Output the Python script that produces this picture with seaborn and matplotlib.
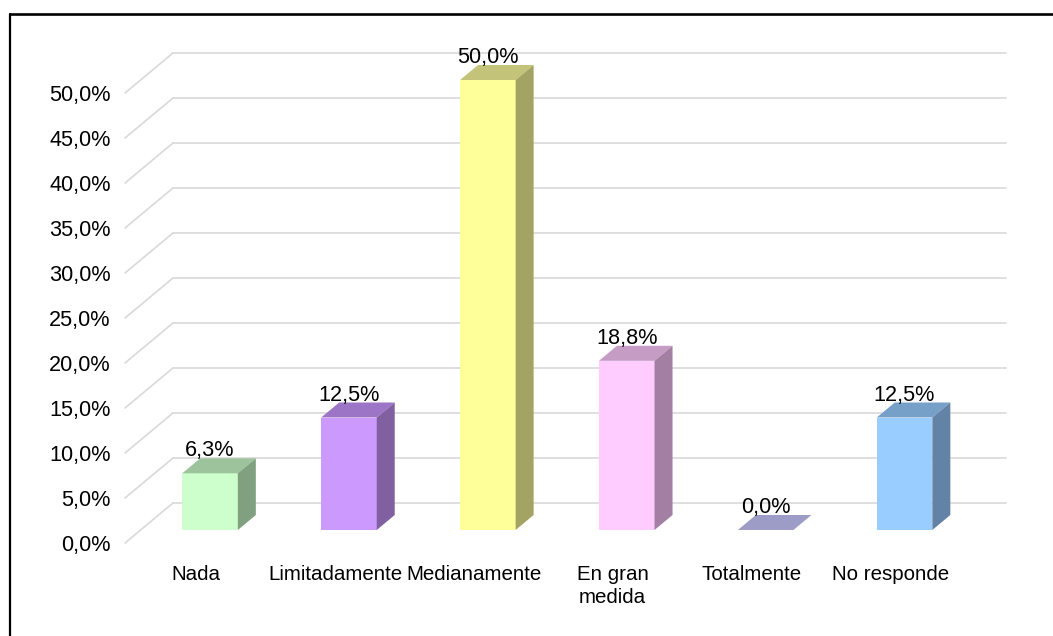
import matplotlib
matplotlib.use("Agg")
import matplotlib.pyplot as plt
import matplotlib.transforms as mtransforms
from matplotlib.patches import Polygon
from matplotlib.lines import Line2D
import seaborn as sns

# data
categorias = ["Nada", "Limitadamente", "Medianamente", "En gran\nmedida", "Totalmente", "No responde"]
porcentajes = [6.3, 12.5, 50.0, 18.8, 0.0, 12.5]
ticks_y = [0, 5, 10, 15, 20, 25, 30, 35, 40, 45, 50]

col_frente = ["#CCFFCC", "#CC99FF", "#FFFF99", "#FFCCFF", "#CCCCFF", "#99CCFF"]
col_arriba = ["#9DC39D", "#9D75C6", "#C3C37A", "#C49CC4", "#9C9CC6", "#76A0C8"]
col_lado = ["#80A080", "#8060A0", "#A3A363", "#A37FA3", "#7F7FA3", "#6282A6"]

sns.set_style("white")
plt.rcParams["font.family"] = ["Liberation Sans", "DejaVu Sans"]
fs_num = 15.6
fs_cat = 14.8

W, H = 1053, 636
fig = plt.figure(figsize=(W / 100, H / 100), dpi=100)
ax = fig.add_axes([140.6 / W, 106 / H, 833.4 / W, 450 / H])

sns.barplot(x=categorias, y=porcentajes, hue=categorias, palette=col_frente,
            width=0.4, saturation=1, legend=False, linewidth=0, ax=ax, zorder=3)
ax.set_xlim(-0.5, 5.5)
ax.set_ylim(0, 50)
for s in ax.spines.values():
    s.set_visible(False)
ax.tick_params(length=0, colors="black")
ax.set_facecolor("none")

def desplaza(dx, dy):
    # offset in pixels (dpi 100)
    return ax.transData + mtransforms.ScaledTranslation(dx / 100, dy / 100, fig.dpi_scale_trans)

# back wall grid + side wall diagonals
for v in ticks_y:
    ax.plot([-0.5, 5.5], [v, v], color="#D9D9D9", lw=1.2, transform=desplaza(32.4, 27),
            clip_on=False, zorder=1)
    p0 = desplaza(-15.6, -13).transform((-0.5, v))
    p1 = desplaza(32.4, 27).transform((-0.5, v))
    fig.add_artist(Line2D([p0[0] / W, p1[0] / W], [p0[1] / H, p1[1] / H],
                          color="#D9D9D9", lw=1.2, zorder=1))

# 3d faces of the bars
ppx = ax.transData.transform((1, 0))[0] - ax.transData.transform((0, 0))[0]
ppy = ax.transData.transform((0, 1))[1] - ax.transData.transform((0, 0))[1]
dx, dy = 18 / ppx, 15 / ppy
for i, p in enumerate(ax.patches):
    x0, w, h = p.get_x(), p.get_width(), p.get_height()
    arriba = Polygon([(x0, h), (x0 + w, h), (x0 + w + dx, h + dy), (x0 + dx, h + dy)],
                     closed=True, facecolor=col_arriba[i], edgecolor="none",
                     clip_on=False, zorder=3)
    ax.add_patch(arriba)
    if h > 0:
        lado = Polygon([(x0 + w, 0), (x0 + w + dx, dy), (x0 + w + dx, h + dy), (x0 + w, h)],
                       closed=True, facecolor=col_lado[i], edgecolor="none",
                       clip_on=False, zorder=3)
        ax.add_patch(lado)
    etiqueta = f"{porcentajes[i]:.1f}".replace(".", ",") + "%"
    ax.text(x0 + w / 2, h, etiqueta, ha="center", va="baseline", fontsize=fs_num,
            color="black", transform=desplaza(0, 17), zorder=5)

# axis labels
ax.set_yticks(ticks_y)
ax.set_yticklabels([f"{v:.1f}".replace(".", ",") + "%" for v in ticks_y], fontsize=fs_num)
ax.tick_params(axis="y", pad=21.5)
for lab in ax.get_yticklabels():
    lab.set_transform(lab.get_transform() + mtransforms.ScaledTranslation(0, -0.13, fig.dpi_scale_trans))
ax.set_xticks(range(len(categorias)))
ax.set_xticklabels(categorias, fontsize=fs_cat, linespacing=1.3)
ax.tick_params(axis="x", pad=25)
for lab in ax.get_xticklabels():
    lab.set_transform(lab.get_transform() + mtransforms.ScaledTranslation(-0.14, 0, fig.dpi_scale_trans))
ax.set_xlabel("")
ax.set_ylabel("")

# outer frame (only top and left visible)
fig.add_artist(Line2D([9.5 / W, 9.5 / W], [0, 1 - 14 / H], color="black", lw=1.6))
fig.add_artist(Line2D([9.5 / W, 1], [1 - 14 / H, 1 - 14 / H], color="black", lw=1.9))

fig.savefig("out.png", dpi=100)
